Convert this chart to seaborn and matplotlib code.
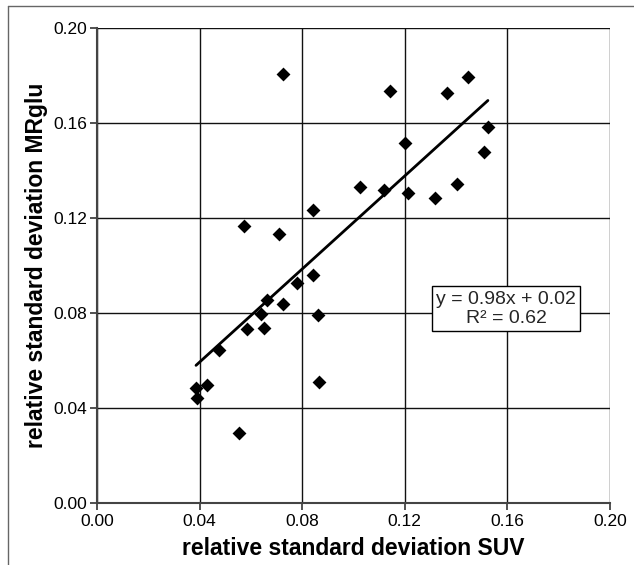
import numpy as np
import pandas as pd
import matplotlib
matplotlib.use("Agg")
import matplotlib.pyplot as plt
import seaborn as sns
from matplotlib.lines import Line2D

# ---- data ----
suv = [0.0727, 0.1143, 0.1363, 0.1447, 0.1524, 0.1202, 0.1510, 0.1025, 0.1119,
       0.1214, 0.1319, 0.1402, 0.0843, 0.0574, 0.0708, 0.0843, 0.0779, 0.0664,
       0.0726, 0.0640, 0.0862, 0.0585, 0.0650, 0.0474, 0.0386, 0.0428, 0.0391,
       0.0865, 0.0552]
mrglu = [0.1805, 0.1734, 0.1726, 0.1793, 0.1583, 0.1513, 0.1478, 0.1328, 0.1316,
         0.1306, 0.1281, 0.1340, 0.1233, 0.1163, 0.1133, 0.0957, 0.0926, 0.0855,
         0.0838, 0.0794, 0.0789, 0.0733, 0.0736, 0.0643, 0.0484, 0.0496, 0.0440,
         0.0508, 0.0294]
slope = 0.98
intercept = 0.02
r2 = 0.62
ticks = [0.00, 0.04, 0.08, 0.12, 0.16, 0.20]
tick_labels = ["0.00", "0.04", "0.08", "0.12", "0.16", "0.20"]
xlabel = "relative standard deviation SUV"
ylabel = "relative standard deviation MRglu"
eq_text = f"y = {slope:.2f}x + {intercept:.2f}\nR² = {r2:.2f}"

df = pd.DataFrame({"suv": suv, "mrglu": mrglu})

sns.set_theme(style="white")
plt.rcParams["font.family"] = ["Liberation Sans", "DejaVu Sans"]

fig = plt.figure(figsize=(6.34, 5.65), dpi=100)
ax = fig.add_axes([97/634, 1 - 502.7/565, (610 - 97)/634, (502.7 - 27.7)/565])

ax.set_xlim(0, 0.20)
ax.set_ylim(0, 0.20)
ax.set_xticks(ticks)
ax.set_yticks(ticks)
ax.set_xticklabels(tick_labels)
ax.set_yticklabels(tick_labels)

ax.grid(True, color="#111111", linewidth=1.0)
ax.set_axisbelow(True)

sns.scatterplot(data=df, x="suv", y="mrglu", ax=ax, marker="D", s=50,
                color="black", edgecolor="black", linewidth=0, zorder=3)

xl = np.array([min(suv), max(suv)])
sns.lineplot(x=xl, y=slope * xl + intercept, ax=ax, color="black",
             linewidth=2.0, zorder=4)

for side in ["top", "right"]:
    ax.spines[side].set_visible(False)
for side in ["left", "bottom"]:
    ax.spines[side].set_visible(True)
    ax.spines[side].set_color("#444444")
    ax.spines[side].set_linewidth(1.5)

ax.tick_params(axis="both", which="major", direction="out", length=5,
               width=1.2, color="#333333", labelsize=12.5, labelcolor="black",
               bottom=True, left=True, pad=2)
ax.tick_params(axis="x", pad=3)

ax.set_xlabel(xlabel, fontsize=16.5, fontweight="bold", labelpad=6, color="black")
ax.set_ylabel(ylabel, fontsize=16.5, fontweight="bold", labelpad=4, color="black")

ax.text(0.1595, 0.0816, eq_text, ha="center", va="center", fontsize=14,
        linespacing=1.2, zorder=5,
        bbox=dict(boxstyle="square,pad=0.22", facecolor="white",
                  edgecolor="black", linewidth=1.0))

# outer frame lines (left and top)
fig.add_artist(Line2D([7.5/634, 7.5/634], [0, 1 - 6/565], transform=fig.transFigure,
                      color="#666666", linewidth=1.0))
fig.add_artist(Line2D([7.5/634, 1], [1 - 6/565, 1 - 6/565], transform=fig.transFigure,
                      color="#666666", linewidth=1.0))

fig.savefig("out.png", dpi=100, facecolor="white")
